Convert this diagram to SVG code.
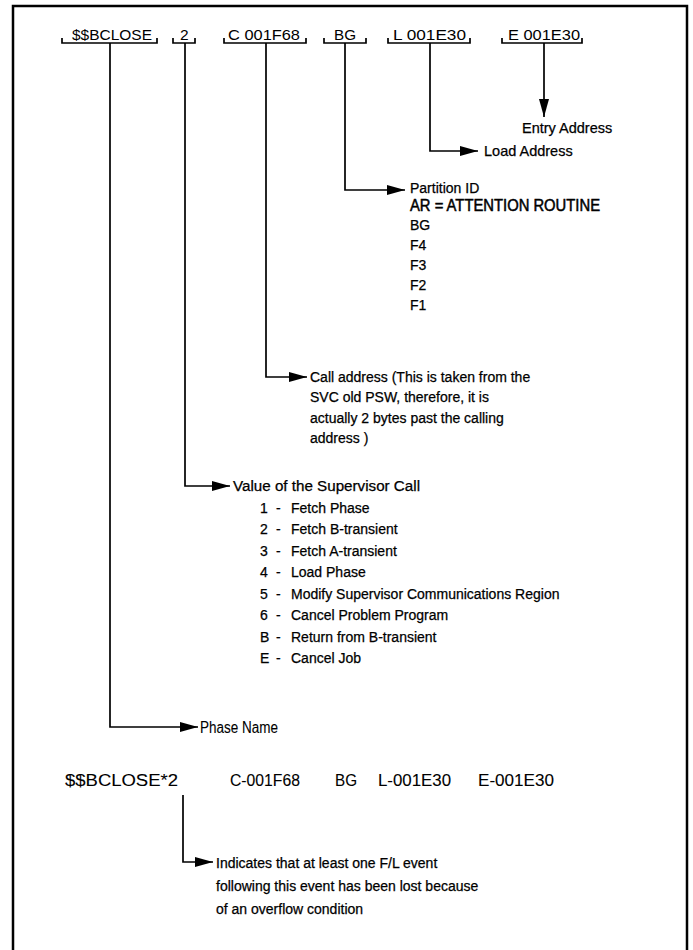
<svg xmlns="http://www.w3.org/2000/svg" width="693" height="950" viewBox="0 0 693 950">
<style>
text{font-family:"Liberation Sans",Arial,sans-serif;font-size:14px;fill:#000;stroke:#000;stroke-width:0.25}
.n{font-size:15.5px;stroke-width:0}
.m{font-size:16px;stroke-width:0.1}
.ar{font-size:16px;stroke-width:0.5}
.ln{fill:none;stroke:#000;stroke-width:1.7}
.frame{fill:none;stroke:#000;stroke-width:2.5}
</style>
<defs>
<marker id="ah" viewBox="0 0 18 10" refX="18" refY="5" markerWidth="18" markerHeight="10" markerUnits="userSpaceOnUse" orient="auto">
<path d="M0,0 L18,5 L0,10 Z" fill="#000"/>
</marker>
</defs>
<rect width="693" height="950" fill="#fff"/>
<path class="frame" d="M13,955 V6 H687 V955"/>

<g id="labels">
<g id="lbl-phase"><text class="n" x="72" y="40" textLength="80" lengthAdjust="spacingAndGlyphs">$$BCLOSE</text><path class="ln" d="M62,38 v5 H157 v-5"/></g>
<g id="lbl-svc"><text class="n" x="180" y="40">2</text><path class="ln" d="M173,38 v5 H195 v-5"/></g>
<g id="lbl-call"><text class="n" x="228" y="40" textLength="72" lengthAdjust="spacingAndGlyphs">C 001F68</text><path class="ln" d="M224,38 v5 H306 v-5"/></g>
<g id="lbl-part"><text class="n" x="334" y="40" textLength="22" lengthAdjust="spacingAndGlyphs">BG</text><path class="ln" d="M324,38 v5 H366 v-5"/></g>
<g id="lbl-load"><text class="n" x="393" y="40" textLength="73" lengthAdjust="spacingAndGlyphs">L 001E30</text><path class="ln" d="M388,38 v5 H470 v-5"/></g>
<g id="lbl-entry"><text class="n" x="508" y="40" textLength="72" lengthAdjust="spacingAndGlyphs">E 001E30</text><path class="ln" d="M502,38 v5 H582 v-5"/></g>
</g>

<g id="connectors">
<path class="ln" d="M544,43 V117" marker-end="url(#ah)"/>
<path class="ln" d="M430,43 V151 H478" marker-end="url(#ah)"/>
<path class="ln" d="M345,43 V190 H405" marker-end="url(#ah)"/>
<path class="ln" d="M266,43 V377 H307" marker-end="url(#ah)"/>
<path class="ln" d="M185,43 V486 H230" marker-end="url(#ah)"/>
<path class="ln" d="M110,43 V727 H198" marker-end="url(#ah)"/>
<path class="ln" d="M183,795 V862 H213" marker-end="url(#ah)"/>
</g>

<g id="entry"><text x="522" y="133" style="font-size:14.5px">Entry Address</text></g>
<g id="load"><text x="484" y="156" style="font-size:14.5px">Load Address</text></g>
<g id="partition">
<text x="410" y="193">Partition ID</text>
<text x="410" y="211" class="ar" textLength="190" lengthAdjust="spacingAndGlyphs">AR = ATTENTION ROUTINE</text>
<text x="410" y="230">BG</text>
<text x="410" y="250">F4</text>
<text x="410" y="270">F3</text>
<text x="410" y="290">F2</text>
<text x="410" y="310">F1</text>
</g>
<g id="call">
<text x="310" y="382">Call address (This is taken from the</text>
<text x="310" y="402">SVC old PSW, therefore, it is</text>
<text x="310" y="423">actually 2 bytes past the calling</text>
<text x="310" y="443">address )</text>
</g>
<g id="svc">
<text x="233" y="491" textLength="187" lengthAdjust="spacingAndGlyphs">Value of the Supervisor Call</text>
<text x="260" y="513">1</text><text x="276" y="513">-</text><text x="291" y="513">Fetch Phase</text>
<text x="260" y="534">2</text><text x="276" y="534">-</text><text x="291" y="534">Fetch B-transient</text>
<text x="260" y="556">3</text><text x="276" y="556">-</text><text x="291" y="556">Fetch A-transient</text>
<text x="260" y="577">4</text><text x="276" y="577">-</text><text x="291" y="577">Load Phase</text>
<text x="260" y="599">5</text><text x="276" y="599">-</text><text x="291" y="599">Modify Supervisor Communications Region</text>
<text x="260" y="620">6</text><text x="276" y="620">-</text><text x="291" y="620">Cancel Problem Program</text>
<text x="260" y="642">B</text><text x="276" y="642">-</text><text x="291" y="642">Return from B-transient</text>
<text x="260" y="663">E</text><text x="276" y="663">-</text><text x="291" y="663">Cancel Job</text>
</g>
<g id="phase"><text x="200" y="733" style="font-size:16px;stroke-width:0.1" textLength="78" lengthAdjust="spacingAndGlyphs">Phase Name</text></g>
<g id="example">
<text class="m" x="65" y="786" textLength="113" lengthAdjust="spacingAndGlyphs">$$BCLOSE*2</text>
<text class="m" x="230" y="786" textLength="70" lengthAdjust="spacingAndGlyphs">C-001F68</text>
<text class="m" x="335" y="786" textLength="22" lengthAdjust="spacingAndGlyphs">BG</text>
<text class="m" x="378" y="786" textLength="73" lengthAdjust="spacingAndGlyphs">L-001E30</text>
<text class="m" x="478" y="786" textLength="76" lengthAdjust="spacingAndGlyphs">E-001E30</text>
</g>
<g id="overflow">
<text x="216" y="868">Indicates that at least one F/L event</text>
<text x="216" y="891">following this event has been lost because</text>
<text x="216" y="914">of an overflow condition</text>
</g>
</svg>
